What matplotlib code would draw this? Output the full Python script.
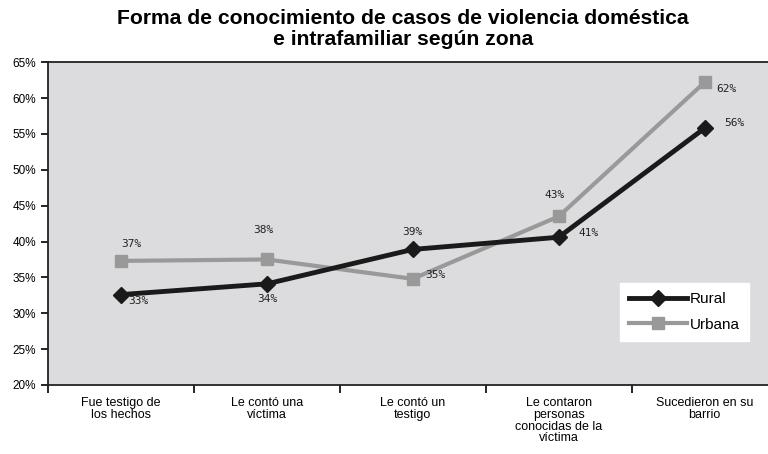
import matplotlib.pyplot as plt

categories = ['Fue testigo de\nlos hechos', 'Le contó una\nvíctima', 'Le contó un\ntestigo',
              'Le contaron\npersonas\nconocidas de la\nvíctima', 'Sucedieron en su\nbarrio']
rural = [32.6, 34.1, 38.9, 40.6, 55.8]
urbana = [37.3, 37.5, 34.8, 43.5, 62.2]
rural_labels = ['33%', '34%', '39%', '41%', '56%']
urbana_labels = ['37%', '38%', '35%', '43%', '62%']

plt.rcParams['font.family'] = ['Liberation Sans', 'DejaVu Sans']

fig = plt.figure(figsize=(7.68, 4.54), dpi=100)
ax = fig.add_axes([0.0625, 0.152, 0.95, 0.711])
ax.set_facecolor('#dcdcde')

x = list(range(len(categories)))
ax.plot(x, urbana, color='#999999', lw=3, marker='s', ms=9, label='Urbana', zorder=3)
ax.plot(x, rural, color='#1a1a1a', lw=3.5, marker='D', ms=8, label='Rural', zorder=4)

# label offsets in pixels
r_off = [(17, -6), (0, -15), (0, 17), (30, 4), (30, 5)]
u_off = [(10, 17), (-4, 29), (23, 4), (-4, 21), (22, -7)]
for i in x:
    ax.annotate(rural_labels[i], (i, rural[i]), xytext=r_off[i], textcoords='offset pixels',
                ha='center', va='center', fontsize=8, family='DejaVu Sans Mono', color='#222222')
    ax.annotate(urbana_labels[i], (i, urbana[i]), xytext=u_off[i], textcoords='offset pixels',
                ha='center', va='center', fontsize=8, family='DejaVu Sans Mono', color='#222222')

ax.set_xlim(-0.5, 4.5)
ax.set_ylim(20, 65)
ax.set_yticks(range(20, 70, 5))
ax.set_yticklabels([f'{v}%' for v in range(20, 70, 5)], fontsize=8.5)
ax.set_xticks(x)
ax.set_xticklabels(categories, fontsize=9, linespacing=0.95, va='top')
ax.tick_params(axis='x', length=0, pad=9)
ax.set_xticks([i - 0.5 for i in range(6)], minor=True)
ax.tick_params(axis='x', which='minor', length=6, width=1.2)
ax.tick_params(axis='y', length=5, width=1.2)
for s in ax.spines.values():
    s.set_linewidth(1.3)
    s.set_color('#222222')

handles, labels = ax.get_legend_handles_labels()
leg = ax.legend(handles[::-1], labels[::-1], loc='upper left', bbox_to_anchor=(0.773, 0.34),
                frameon=True, fancybox=False, fontsize=11,
                handlelength=3.8, borderpad=0.6, labelspacing=0.75, handletextpad=0.2)
leg.get_frame().set_edgecolor('white')
leg.get_frame().set_alpha(1)

fig.suptitle('Forma de conocimiento de casos de violencia doméstica\ne intrafamiliar según zona',
             x=0.525, y=0.98, fontsize=15.2, fontweight='bold', linespacing=1.15)

fig.savefig('out.png', dpi=100)
